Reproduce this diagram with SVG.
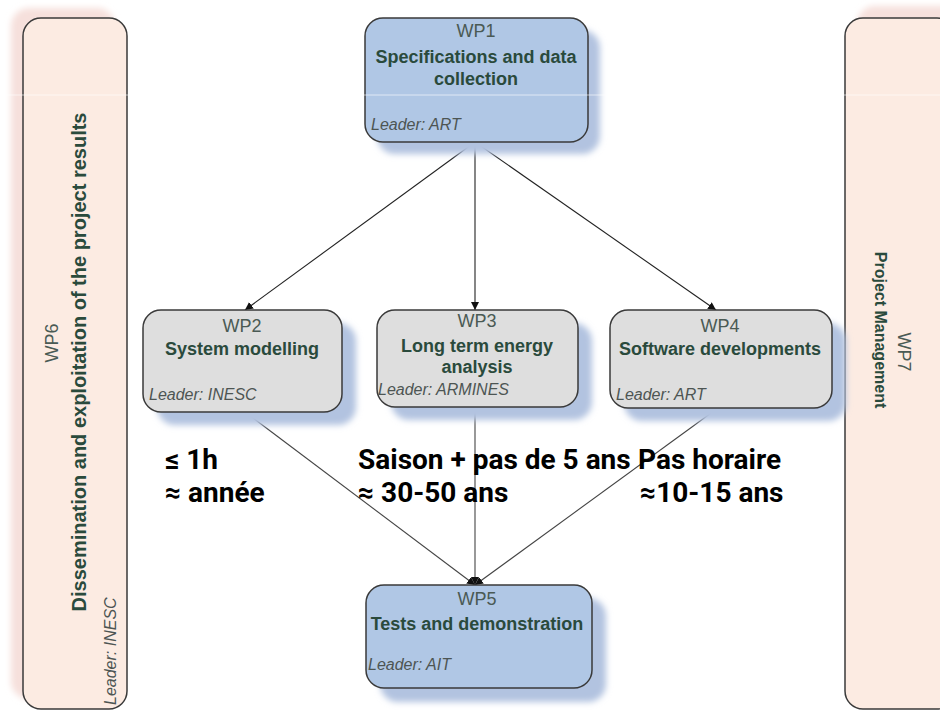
<svg xmlns="http://www.w3.org/2000/svg" width="940" height="714" viewBox="0 0 940 714">
  <defs>
    <filter id="soft" x="-20%" y="-20%" width="140%" height="140%">
      <feGaussianBlur stdDeviation="3"/>
    </filter>
    <marker id="arrow" viewBox="0 0 8 8" refX="8" refY="4" markerWidth="8" markerHeight="8" markerUnits="userSpaceOnUse" orient="auto">
      <path d="M0,0 L8,4 L0,8 z" fill="#111"/>
    </marker>
  </defs>
  <style>
    .box { stroke: #3a3a3a; stroke-width: 1.5; }
    .blue { fill: #b0c7e5; }
    .grey { fill: #dedede; }
    .peach { fill: #fcebe2; }
    .shadow-blue { fill: #b2c3e0; filter: url(#soft); }
    .shadow-pink { fill: #f6e0dc; filter: url(#soft); }
    .wp { font-family: "Liberation Sans", Arial, sans-serif; font-size: 18px; fill: #4a5a54; text-anchor: middle; }
    .title { font-family: "Liberation Sans", Arial, sans-serif; font-size: 18px; font-weight: bold; fill: #2a4a3c; text-anchor: middle; }
    .side { font-size: 20px; }
    .pm { font-size: 16px; }
    .leader { font-family: "Liberation Sans", Arial, sans-serif; font-size: 16px; font-style: italic; fill: #4d5553; }
    .link { fill: none; stroke: #222; stroke-width: 1.1; marker-end: url(#arrow); }
    .link2 { fill: none; stroke: #444; stroke-width: 1.1; marker-end: url(#arrow); }
    .note { font-family: Roboto, "Liberation Sans", Arial, sans-serif; font-size: 28px; font-weight: bold; fill: #000; }
  </style>

  <rect width="940" height="714" fill="#ffffff"/>

  <!-- WP6: dissemination, vertical side bar -->
  <g id="wp6">
    <rect class="shadow-pink" x="11" y="8" width="104" height="691" rx="18"/>
    <rect class="box peach" x="23" y="18" width="104" height="691" rx="18"/>
    <text class="wp" transform="translate(58,343) rotate(-90)">WP6</text>
    <text class="title side" transform="translate(86,362) rotate(-90)">Dissemination and exploitation of the project results</text>
    <text class="leader" transform="translate(116,705) rotate(-90)">Leader: INESC</text>
  </g>

  <!-- WP7: project management, vertical side bar -->
  <g id="wp7">
    <rect class="shadow-pink" x="857" y="6" width="110" height="691" rx="18"/>
    <rect class="box peach" x="845" y="18" width="110" height="691" rx="18"/>
    <text class="wp" transform="translate(898,352) rotate(90)">WP7</text>
    <text class="title pm" transform="translate(875,330) rotate(90)">Project Management</text>
  </g>

  <!-- connectors -->
  <g id="connectors">
    <line class="link" x1="475" y1="142" x2="245" y2="310"/>
    <line class="link" x1="475" y1="142" x2="475" y2="310"/>
    <line class="link" x1="475" y1="142" x2="716" y2="310"/>
    <line class="link2" x1="245" y1="412" x2="475" y2="585"/>
    <line class="link2" x1="475" y1="407" x2="475" y2="585"/>
    <line class="link2" x1="718" y1="408" x2="475" y2="585"/>
  </g>

  <!-- WP1 -->
  <g id="wp1">
    <rect class="shadow-blue" x="377" y="30" width="223" height="124" rx="18"/>
    <rect class="box blue" x="365" y="18" width="223" height="124" rx="18"/>
    <text class="wp" x="476" y="37">WP1</text>
    <text class="title" x="476" y="63">Specifications and data</text>
    <text class="title" x="476" y="85">collection</text>
    <text class="leader" x="371" y="130">Leader: ART</text>
  </g>

  <!-- WP2 -->
  <g id="wp2">
    <rect class="shadow-blue" x="157" y="323" width="199" height="102" rx="18"/>
    <rect class="box grey" x="143" y="310" width="199" height="102" rx="18"/>
    <text class="wp" x="242" y="332">WP2</text>
    <text class="title" x="242" y="355">System modelling</text>
    <text class="leader" x="149" y="400">Leader: INESC</text>
  </g>

  <!-- WP3 -->
  <g id="wp3">
    <rect class="shadow-blue" x="391" y="323" width="201" height="97" rx="18"/>
    <rect class="box grey" x="377" y="310" width="201" height="97" rx="18"/>
    <text class="wp" x="477" y="327">WP3</text>
    <text class="title" x="477" y="352">Long term energy</text>
    <text class="title" x="477" y="373">analysis</text>
    <text class="leader" x="378" y="395">Leader: ARMINES</text>
  </g>

  <!-- WP4 -->
  <g id="wp4">
    <rect class="shadow-blue" x="624" y="323" width="222" height="98" rx="18"/>
    <rect class="box grey" x="610" y="310" width="222" height="98" rx="18"/>
    <text class="wp" x="720" y="332">WP4</text>
    <text class="title" x="720" y="355">Software developments</text>
    <text class="leader" x="616" y="400">Leader: ART</text>
  </g>

  <!-- WP5 -->
  <g id="wp5">
    <rect class="shadow-blue" x="380" y="598" width="226" height="104" rx="18"/>
    <rect class="box blue" x="366" y="585" width="226" height="103" rx="18"/>
    <text class="wp" x="477" y="605">WP5</text>
    <text class="title" x="477" y="630">Tests and demonstration</text>
    <text class="leader" x="368" y="670">Leader: AIT</text>
  </g>

  <!-- time-scale annotations -->
  <g id="notes">
    <text class="note" x="165" y="469">≤ 1h</text>
    <text class="note" x="165" y="502">≈ année</text>
    <text class="note" x="358" y="469">Saison + pas de 5 ans</text>
    <text class="note" x="358" y="502">≈ 30-50 ans</text>
    <text class="note" x="638" y="469">Pas horaire</text>
    <text class="note" x="640" y="502">≈10-15 ans</text>
  </g>

  <!-- faint scan line across the sheet -->
  <line x1="0" y1="95" x2="940" y2="95" stroke="#ffffff" stroke-opacity="0.6" stroke-width="1"/>
</svg>
